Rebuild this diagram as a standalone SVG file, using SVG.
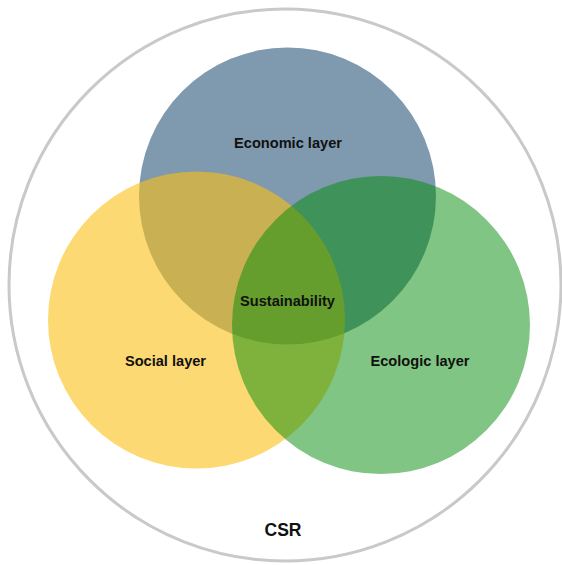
<svg xmlns="http://www.w3.org/2000/svg" width="562" height="565" viewBox="0 0 562 565">
  <style>
    .lbl { font-family: "Liberation Sans", Arial, sans-serif; font-weight: bold; font-size: 14.6px; fill: #111; text-anchor: middle; }
    .csr { font-size: 17.5px; }
  </style>
  <rect width="562" height="565" fill="#ffffff"/>
  <!-- CSR boundary -->
  <g id="csr">
    <circle cx="285" cy="285" r="276" fill="none" stroke="#c9c9c9" stroke-width="3"/>
    <text class="lbl csr" x="283" y="536">CSR</text>
  </g>
  <!-- three overlapping layers -->
  <g id="economic">
    <circle cx="287.5" cy="196" r="148.5" fill="#00335d" fill-opacity="0.5"/>
  </g>
  <g id="social">
    <circle cx="196.5" cy="320" r="148.5" fill="#fac014" fill-opacity="0.6"/>
  </g>
  <g id="ecologic">
    <circle cx="381" cy="325" r="149" fill="#018b07" fill-opacity="0.5"/>
  </g>
  <g id="labels">
    <text class="lbl" x="288" y="148">Economic layer</text>
    <text class="lbl" x="287.5" y="306">Sustainability</text>
    <text class="lbl" x="165.5" y="365.5">Social layer</text>
    <text class="lbl" x="420" y="365.5">Ecologic layer</text>
  </g>
</svg>
